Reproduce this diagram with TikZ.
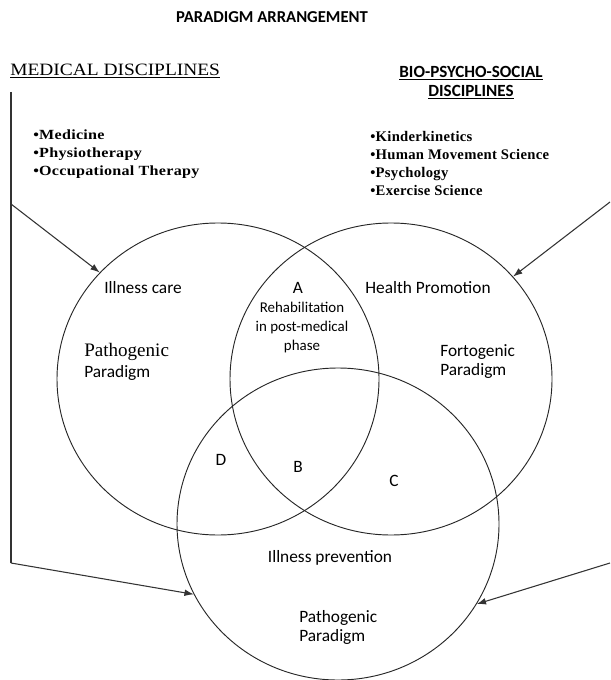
\documentclass[tikz,border=0pt]{standalone}
\usepackage{fontspec}
\setmainfont{Carlito}
\newfontfamily\timesfont{Liberation Serif}
\usetikzlibrary{calc,arrows.meta,positioning,shapes.geometric}

\tikzset{
  zone/.style={draw=black!85,ellipse,line width=0.7pt,minimum width=241.5pt,minimum height=234pt,inner sep=0pt},
  feed/.style={draw=black!80,line width=0.8pt,-{Latex[length=7pt,width=5pt]}},
  lbl/.style={inner sep=0pt,font=\fontsize{13}{14.25}\selectfont,align=center},
  hd/.style={inner sep=0pt,font=\bfseries\fontsize{12.8}{14.25}\selectfont,align=center},
  lst/.style={inner sep=0pt,anchor=west,align=left,font=\timesfont\bfseries\fontsize{11}{13.5}\selectfont},
}

\begin{document}
\begin{tikzpicture}[x=0.75pt,y=-0.75pt]
\useasboundingbox (0,0) rectangle (610,680);
%headings
\node[hd,font=\bfseries\fontsize{12.5}{14}\selectfont] (title) at (272,17) {PARADIGM ARRANGEMENT};
\node[inner sep=0pt,anchor=west,font=\timesfont\fontsize{13}{14}\selectfont\addfontfeatures{FakeStretch=1.12}] (med) at (10,71) {\underline{MEDICAL DISCIPLINES}};
\node[hd] (bps) at (471,82.5) {\underline{BIO-PSYCHO-SOCIAL}\\\underline{DISCIPLINES}};
\node[lst,font=\timesfont\bfseries\fontsize{10.5}{13.5}\selectfont\addfontfeatures{FakeStretch=1.15,LetterSpace=2}] (medlist) at (33,154) {\textbullet Medicine\\\textbullet Physiotherapy\\\textbullet Occupational Therapy};
\node[lst,font=\timesfont\bfseries\fontsize{11}{13.5}\selectfont\addfontfeatures{LetterSpace=2}] (bpslist) at (370,163) {\textbullet Kinderkinetics\\\textbullet Human Movement Science\\\textbullet Psychology\\\textbullet Exercise Science};

%circles
\node[zone] (care) at (218,379) {};
\node[zone] (promo) at (391,379) {};
\node[zone] (prev) at (338,524) {};

%labels
\node[lbl] (illcare) at (143,288) {Illness care};
\node[lbl] (a) at (298,288) {A};
\node[lbl,font=\fontsize{11.2}{14.25}\selectfont] (rehab) at (302,328) {Rehabilitation\\in post-medical\\phase};
\node[lbl] (health) at (428,288) {Health Promotion};
\node[lbl,anchor=west,font=\timesfont\fontsize{14.3}{15}\selectfont] (pathoA) at (84,352) {Pathogenic};
\node[lbl,anchor=west] (paraA) at (84,373) {Paradigm};
\node[lbl,anchor=west,align=left] (forto) at (440,361.5) {Fortogenic\\Paradigm};
\node[lbl] (d) at (221,460) {D};
\node[lbl] (b) at (298,467) {B};
\node[lbl] (c) at (394,481) {C};
\node[lbl] (illprev) at (330,558) {Illness prevention};
\node[lbl,anchor=west,align=left] (pathoC) at (299,627.5) {Pathogenic\\Paradigm};

%arrows
\coordinate (medtop) at (11,92);
\coordinate (medmid) at (11,204);
\coordinate (medlow) at (11,563);
\coordinate (bpsup) at (610,202);
\coordinate (bpslow) at (610,563);
\draw[draw=black!80,line width=0.8pt] (medtop) -- (medlow);
\draw[feed] (medmid) -- (care.138);
\draw[feed] (medlow) -- (prev.206);
\draw[feed] (bpsup) -- (promo.40);
\draw[feed] (bpslow) -- (prev.330);
\end{tikzpicture}
\end{document}
